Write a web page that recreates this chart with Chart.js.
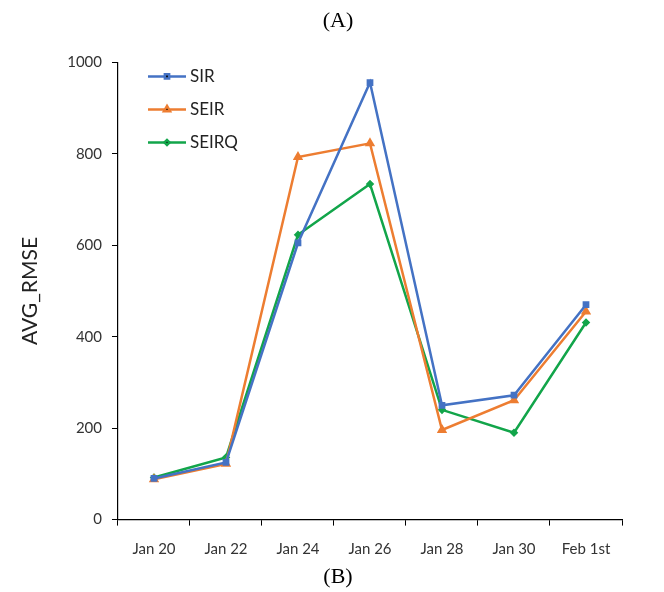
<!DOCTYPE html>
<html lang="en">
<head>
<meta charset="UTF-8">
<title>AVG_RMSE chart</title>
<script src="https://cdn.jsdelivr.net/npm/chart.js"></script>
<style>
    body { margin: 0; background: #fff; }
    #wrap { width: 664px; height: 592px; position: relative; }
</style>
</head>
<body>
<div id="wrap"><canvas id="chart"></canvas></div>
<script>
    // dati
    var dates = ['Jan 20', 'Jan 22', 'Jan 24', 'Jan 26', 'Jan 28', 'Jan 30', 'Feb 1st'];
    var sir = [90, 125, 605, 956, 250, 272, 470];
    var seir = [88, 122, 793, 823, 196, 261, 455];
    var seirq = [92, 136, 623, 734, 240, 190, 431];
    var yTicks = [0, 200, 400, 600, 800, 1000];

    var tickFont = { family: 'Lato, "Open Sans", sans-serif', size: 15 };
    var serifFont = { family: '"Liberation Serif", serif', size: 22, weight: 'normal' };

    // legenda disegnata dentro l'area del grafico
    var insideLegend = {
        id: 'insideLegend',
        afterDraw: function(chart) {
            var ctx = chart.ctx;
            var x0 = chart.chartArea.left + 30;
            var y0 = chart.chartArea.top + 14;
            chart.data.datasets.forEach(function(ds, i) {
                var y = y0 + i * 33;
                ctx.save();
                ctx.strokeStyle = ds.borderColor;
                ctx.lineWidth = 2.5;
                ctx.beginPath();
                ctx.moveTo(x0, y);
                ctx.lineTo(x0 + 38, y);
                ctx.stroke();
                Chart.helpers.drawPoint(ctx, {
                    pointStyle: ds.pointStyle, radius: ds.pointRadius, borderWidth: 1
                }, x0 + 19, y);
                ctx.fillStyle = '#222';
                ctx.font = '17px Lato, "Open Sans", sans-serif';
                ctx.textBaseline = 'middle';
                ctx.fillText(ds.label, x0 + 42, y);
                ctx.restore();
            });
        }
    };

    // (A) e (B): il titolo riserva lo spazio, il testo viene spostato un po' a destra
    var panelLabels = {
        id: 'panelLabels',
        afterDraw: function(chart) {
            var ctx = chart.ctx;
            var cx = chart.width / 2 + 6;
            ctx.save();
            ctx.fillStyle = '#000';
            ctx.font = '22px "Liberation Serif", serif';
            ctx.textAlign = 'center';
            ctx.textBaseline = 'middle';
            ctx.fillText('(A)', cx, 21);
            ctx.fillText('(B)', cx, chart.height - 15);
            ctx.restore();
        }
    };

    function makeSet(label, data, color, style, r) {
        return {
            label: label,
            data: data,
            borderColor: color,
            backgroundColor: color,
            pointBackgroundColor: color,
            pointBorderColor: color,
            pointStyle: style,
            pointRadius: r,
            borderWidth: 2.5,
            tension: 0
        };
    }

    new Chart(document.getElementById('chart'), {
        type: 'line',
        data: {
            labels: dates,
            datasets: [
                makeSet('SIR', sir, '#4472C4', 'rect', 3),
                makeSet('SEIR', seir, '#ED7D31', 'triangle', 3.5),
                makeSet('SEIRQ', seirq, '#12A54A', 'rectRot', 2.5)
            ]
        },
        options: {
            responsive: true,
            maintainAspectRatio: false,
            animation: false,
            layout: { padding: { left: 18, right: 42, top: 0, bottom: 0 } },
            plugins: {
                legend: { display: false },
                tooltip: { enabled: false },
                title: {
                    display: true,
                    text: '(A)',
                    color: 'rgba(0,0,0,0)',
                    font: serifFont,
                    padding: { top: 8, bottom: 28 }
                },
                subtitle: {
                    display: true,
                    position: 'bottom',
                    text: '(B)',
                    color: 'rgba(0,0,0,0)',
                    font: serifFont,
                    padding: { top: 2, bottom: 1 }
                }
            },
            scales: {
                x: {
                    offset: true,
                    grid: { display: true, drawOnChartArea: false, offset: true, color: '#000', tickLength: 6 },
                    border: { color: '#000', width: 1.2 },
                    ticks: { color: '#333', font: tickFont, padding: 15, maxRotation: 0 },
                    afterFit: function(axis) { axis.height -= 11; }
                },
                y: {
                    min: 0,
                    max: 1000,
                    afterBuildTicks: function(axis) {
                        axis.ticks = yTicks.map(function(v) { return { value: v }; });
                    },
                    grid: { display: true, drawOnChartArea: false, color: '#000', tickLength: 6 },
                    border: { color: '#000', width: 1.2 },
                    ticks: {
                        color: '#333', font: tickFont, padding: 10,
                        callback: function(v) { return String(v); }
                    },
                    title: {
                        display: true,
                        text: 'AVG_RMSE',
                        color: '#222',
                        font: { family: 'Lato, "Open Sans", sans-serif', size: 21 },
                        padding: { top: 0, bottom: 14 }
                    }
                }
            }
        },
        plugins: [insideLegend, panelLabels]
    });
</script>
</body>
</html>
